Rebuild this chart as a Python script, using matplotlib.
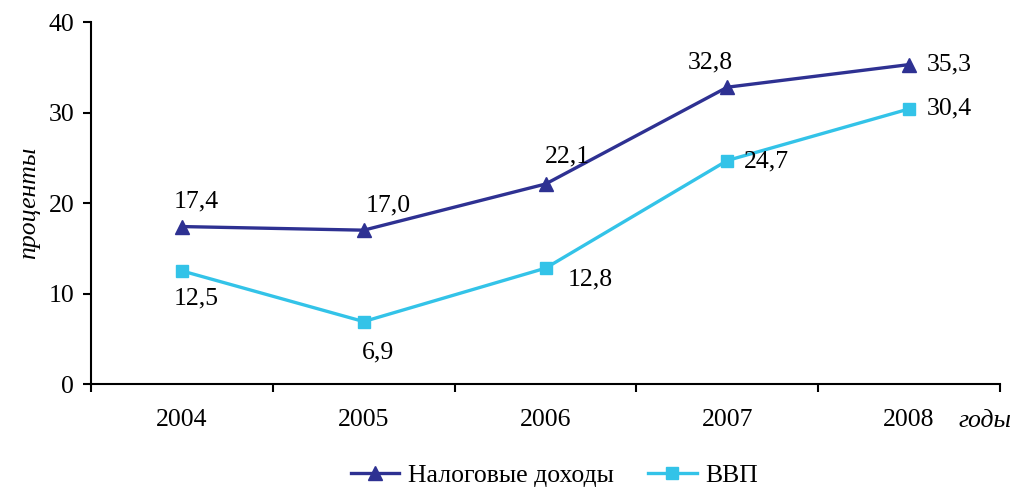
import matplotlib.pyplot as plt

# data
years = ['2004', '2005', '2006', '2007', '2008']
nalog = [17.4, 17.0, 22.1, 32.8, 35.3]
vvp = [12.5, 6.9, 12.8, 24.7, 30.4]
nalog_lbl = ['17,4', '17,0', '22,1', '32,8', '35,3']
vvp_lbl = ['12,5', '6,9', '12,8', '24,7', '30,4']

plt.rcParams['font.family'] = ['Liberation Serif', 'DejaVu Serif']

c_nalog = '#2E3192'
c_vvp = '#33C3E8'

fig = plt.figure(figsize=(10.1, 4.9), dpi=100)
ax = fig.add_axes([0.0901, 0.2163, 0.9, 0.7387])

x = list(range(len(years)))
ax.plot(x, nalog, color=c_nalog, lw=2.4, marker='^', ms=10.5, label='Налоговые доходы')
ax.plot(x, vvp, color=c_vvp, lw=2.4, marker='s', ms=8, label='ВВП')

# подписи значений (смещения в пунктах)
off_nalog = [(10, 18), (18, 18), (16, 20), (-12, 18), (29, 0)]
off_vvp = [(10, -20), (10, -22), (32, -8), (28, -1), (29, 0)]
for i in x:
    ax.annotate(nalog_lbl[i], (i, nalog[i]), xytext=off_nalog[i], textcoords='offset points',
                ha='center', va='center', fontsize=18.5)
    ax.annotate(vvp_lbl[i], (i, vvp[i]), xytext=off_vvp[i], textcoords='offset points',
                ha='center', va='center', fontsize=18.5)

ax.set_xlim(-0.5, 4.5)
ax.set_ylim(0, 40)
ax.set_yticks([0, 10, 20, 30, 40])
ax.set_xticks([i - 0.5 for i in range(6)])
ax.set_xticklabels([])
ax.set_xticks(x, minor=True)
ax.set_xticklabels(years, minor=True)
ax.tick_params(axis='x', which='minor', length=0, pad=18, labelsize=18.5)
ax.tick_params(axis='x', which='major', length=6, width=1.5, direction='out')
ax.tick_params(axis='y', length=6, width=1.5, direction='out', labelsize=18.5, pad=6)
for s in ['top', 'right']:
    ax.spines[s].set_visible(False)
for s in ['left', 'bottom']:
    ax.spines[s].set_linewidth(1.5)

ax.set_ylabel('проценты', fontsize=18.5, style='italic', labelpad=6)
fig.text(0.975, 0.14, 'годы', fontsize=18.5, style='italic', ha='center', va='center')

fig.legend(loc='center', bbox_to_anchor=(0.549, 0.03), ncol=2, frameon=False, fontsize=18.5,
           handlelength=1.9, columnspacing=1.3, handletextpad=0.35, borderpad=0.2)

fig.savefig('out.png', dpi=100)
